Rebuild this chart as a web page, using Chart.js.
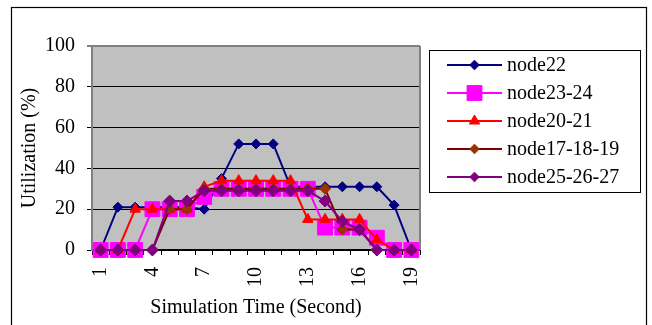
<!DOCTYPE html>
<html>
<head>
<meta charset="utf-8">
<script src="https://cdn.jsdelivr.net/npm/chart.js@4/dist/chart.umd.min.js"></script>
<style>
  html, body { margin: 0; padding: 0; background: #ffffff; }
  canvas { display: block; }
</style>
</head>
<body>
<canvas id="chart" width="652" height="325"></canvas>
<script>
// Time axis categories (seconds) and the ones that carry a label
const timeLabels = ['1','2','3','4','5','6','7','8','9','10','11','12','13','14','15','16','17','18','19'];
const shownTimeTicks = ['1','4','7','10','13','16','19'];
const utilTicks = [0, 20, 40, 60, 80, 100];

const seriesNames = ['node22', 'node23-24', 'node20-21', 'node17-18-19', 'node25-26-27'];

// Utilization (%) per second
const node22       = [0, 21, 21, 21, 21, 21, 20, 35, 52, 52, 52, 31, 31, 31, 31, 31, 31, 22, 0];
const node23_24    = [0, 0, 0, 20, 20, 20, 26, 30, 30, 30, 30, 30, 30, 11, 11, 11, 6, 0, 0];
const node20_21    = [0, 0, 20, 20, 20, 20, 31, 34, 34, 34, 34, 34, 15, 15, 15, 15, 5, 0, 0];
const node17_18_19 = [0, 0, 0, 0, 20, 20, 30, 30, 30, 30, 30, 30, 30, 30, 10, 10, 0, 0, 0];
const node25_26_27 = [0, 0, 0, 0, 24, 24, 29, 29, 29, 29, 29, 29, 29, 24, 14, 10, 0, 0, 0];

const FONT = 'Liberation Serif, Times New Roman, serif';

function series(label, data, line, fill, style, radius, order) {
  return {
    label, data, order,
    borderColor: line,
    borderWidth: 2,
    backgroundColor: fill,
    pointBackgroundColor: fill,
    pointBorderColor: fill,
    pointBorderWidth: 1,
    pointStyle: style,
    pointRadius: radius,
    pointHoverRadius: radius,
    tension: 0,
    clip: false
  };
}

const datasets = [
  series(seriesNames[0], node22,       '#000080', '#000080', 'rectRot',  5,    5),
  series(seriesNames[1], node23_24,    '#FF00FF', '#FF00FF', 'rect',     10.5, 4),
  series(seriesNames[2], node20_21,    '#FF0000', '#FF0000', 'triangle', 6,    3),
  series(seriesNames[3], node17_18_19, '#800000', '#993300', 'rectRot',  5.5,  2),
  series(seriesNames[4], node25_26_27, '#800080', '#800080', 'rectRot',  6,    1)
];

// Gray plot background, plot frame and the outer chart frame
const framePlugin = {
  id: 'frame',
  beforeDraw(chart) {
    const { ctx, chartArea: a } = chart;
    ctx.save();
    ctx.fillStyle = '#ffffff';
    ctx.fillRect(0, 0, chart.width, chart.height);
    ctx.fillStyle = '#C0C0C0';
    ctx.fillRect(a.left, a.top, a.right - a.left, a.bottom - a.top);
    ctx.strokeStyle = '#000000';
    ctx.lineWidth = 1.2;
    ctx.strokeRect(11.5, 7.5, 635, 340);
    ctx.restore();
  },
  beforeDatasetsDraw(chart) {
    const { ctx, chartArea: a } = chart;
    ctx.save();
    ctx.strokeStyle = '#808080';
    ctx.lineWidth = 2;
    ctx.beginPath();
    ctx.moveTo(a.right, a.top);
    ctx.lineTo(a.right, a.bottom);
    ctx.stroke();
    ctx.restore();
  }
};

// Boxed legend on the right: line sample with its marker, then the name
function marker(ctx, style, r, x, y) {
  if (Chart.helpers && Chart.helpers.drawPoint) {
    Chart.helpers.drawPoint(ctx, { pointStyle: style, radius: r, rotation: 0, borderWidth: 1 }, x, y);
    return;
  }
  ctx.beginPath();
  if (style === 'rect') {
    const s = r * Math.SQRT1_2;
    ctx.rect(x - s, y - s, 2 * s, 2 * s);
  } else if (style === 'triangle') {
    ctx.moveTo(x, y - r);
    ctx.lineTo(x + r * 0.866, y + r / 2);
    ctx.lineTo(x - r * 0.866, y + r / 2);
    ctx.closePath();
  } else {
    ctx.moveTo(x, y - r); ctx.lineTo(x + r, y); ctx.lineTo(x, y + r); ctx.lineTo(x - r, y);
    ctx.closePath();
  }
  ctx.fill();
  ctx.stroke();
}

const legendPlugin = {
  id: 'boxLegend',
  afterDraw(chart) {
    const { ctx } = chart;
    const box = { x: 429.5, y: 50.5, w: 211, h: 142 };
    ctx.save();
    ctx.fillStyle = '#ffffff';
    ctx.fillRect(box.x, box.y, box.w, box.h);
    ctx.strokeStyle = '#000000';
    ctx.lineWidth = 1;
    ctx.strokeRect(box.x, box.y, box.w, box.h);
    ctx.font = '20px ' + FONT;
    ctx.textBaseline = 'middle';
    ctx.textAlign = 'left';
    chart.data.datasets.forEach((ds, i) => {
      const y = 65 + i * 28;
      ctx.strokeStyle = ds.borderColor;
      ctx.lineWidth = 2;
      ctx.beginPath();
      ctx.moveTo(447, y);
      ctx.lineTo(502, y);
      ctx.stroke();
      ctx.fillStyle = ds.pointBackgroundColor;
      ctx.strokeStyle = ds.pointBorderColor;
      ctx.lineWidth = 1;
      const r = ds.pointStyle === 'rect' ? 10.5 : (ds.pointStyle === 'triangle' ? 6 : 4.8);
      marker(ctx, ds.pointStyle, r, 474.5, y);
      ctx.fillStyle = '#000000';
      ctx.fillText(ds.label, 507, y + 1);
    });
    ctx.restore();
  }
};

new Chart(document.getElementById('chart'), {
  type: 'line',
  data: { labels: timeLabels, datasets },
  plugins: [framePlugin, legendPlugin],
  options: {
    responsive: false,
    devicePixelRatio: 1,
    animation: false,
    events: [],
    layout: { padding: { left: 11, top: 46, right: 232, bottom: 0 } },
    plugins: {
      legend: { display: false },
      tooltip: { enabled: false }
    },
    scales: {
      x: {
        type: 'category',
        offset: true,
        afterFit(scale) { scale.height = 75; },
        grid: {
          offset: true,
          drawOnChartArea: false,
          drawTicks: true,
          tickLength: 5,
          color: '#000000',
          lineWidth: 1
        },
        border: { display: true, color: '#000000', width: 2 },
        ticks: {
          autoSkip: false,
          minRotation: 90,
          maxRotation: 90,
          padding: 12,
          color: '#000000',
          font: { family: FONT, size: 20 },
          callback(value, index) {
            const lbl = timeLabels[index];
            return shownTimeTicks.includes(lbl) ? lbl : '';
          }
        },
        title: {
          display: true,
          text: 'Simulation Time (Second)',
          color: '#000000',
          font: { family: FONT, size: 20, lineHeight: 1.2 },
          padding: { top: 0, bottom: 5 }
        }
      },
      y: {
        min: 0,
        max: 100,
        afterFit(scale) { scale.width = 81; },
        afterBuildTicks(scale) { scale.ticks = utilTicks.map(v => ({ value: v })); },
        grid: {
          drawTicks: true,
          tickLength: 5,
          color: ctx => (ctx.tick && ctx.tick.value === 100 ? '#808080' : '#000000'),
          lineWidth: ctx => (ctx.tick && ctx.tick.value === 100 ? 2 : 1)
        },
        border: { display: true, color: '#808080', width: 2 },
        ticks: {
          padding: 12,
          color: '#000000',
          font: { family: FONT, size: 20 }
        },
        title: {
          display: true,
          text: 'Utilization (%)',
          color: '#000000',
          font: { family: FONT, size: 20, lineHeight: 1.2 },
          padding: { top: 7, bottom: 0 }
        }
      }
    }
  }
});
</script>
</body>
</html>
